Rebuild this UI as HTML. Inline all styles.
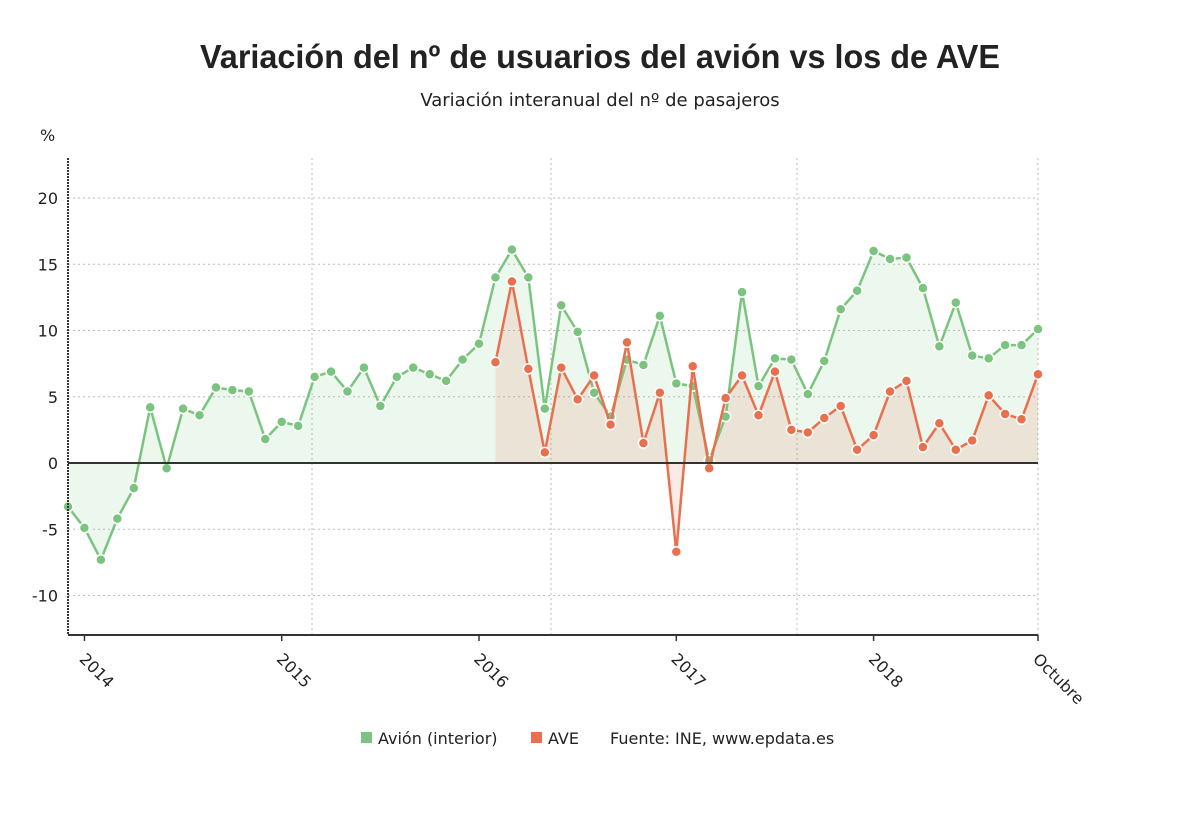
<!DOCTYPE html>
<html><head><meta charset="utf-8"><style>
body{margin:0;background:#fff;font-family:"Liberation Sans","DejaVu Sans",sans-serif;}
svg text{font-family:"DejaVu Sans","Liberation Sans",sans-serif;fill:#222;}
svg text.title{font-family:"Liberation Sans","DejaVu Sans",sans-serif;}
</style></head><body>
<svg id="chart" width="1200" height="809" xmlns="http://www.w3.org/2000/svg">
<text class="title" x="600" y="68" text-anchor="middle" font-size="33" font-weight="bold" fill="#111" textLength="800" lengthAdjust="spacingAndGlyphs">Variación del nº de usuarios del avión vs los de AVE</text>
<text x="600" y="106" text-anchor="middle" font-size="18">Variación interanual del nº de pasajeros</text>
<text x="40" y="141" font-size="16">%</text>
<g id="grid"></g>
<g id="areas"></g>
<g id="lines"></g>
<g id="axes"></g>
<g id="legend">
<rect x="361" y="732" width="11" height="11" fill="#7bc47f"/>
<text x="378" y="744" font-size="16">Avión (interior)</text>
<rect x="531" y="732" width="11" height="11" fill="#e8704f"/>
<text x="548" y="744" font-size="16">AVE</text>
<text x="610" y="744" font-size="16">Fuente: INE, www.epdata.es</text>
</g>
</svg>
<script>
const avion = [-3.3,-4.9,-7.3,-4.2,-1.9,4.2,-0.4,4.1,3.6,5.7,5.5,5.4,1.8,3.1,2.8,6.5,6.9,5.4,7.2,4.3,6.5,7.2,6.7,6.2,7.8,9.0,14.0,16.1,14.0,4.1,11.9,9.9,5.3,3.5,7.8,7.4,11.1,6.0,5.8,0.2,3.5,12.9,5.8,7.9,7.8,5.2,7.7,11.6,13.0,16.0,15.4,15.5,13.2,8.8,12.1,8.1,7.9,8.9,8.9,10.1];
const aveStart = 26;
const ave = [7.6,13.7,7.1,0.8,7.2,4.8,6.6,2.9,9.1,1.5,5.3,-6.7,7.3,-0.4,4.9,6.6,3.6,6.9,2.5,2.3,3.4,4.3,1.0,2.1,5.4,6.2,1.2,3.0,1.0,1.7,5.1,3.7,3.3,6.7];
const yTicks = [-10,-5,0,5,10,15,20];
const xLabels = ["2014","2015","2016","2017","2018","Octubre"];
const xLabelIdx = [1,13,25,37,49,59];

const NS="http://www.w3.org/2000/svg";
const X0=68, X1=1038, N=avion.length;
const xs=i=>X0+i*(X1-X0)/(N-1);
const ys=v=>463-v*13.25;
function mk(tag,attrs,parent){const e=document.createElementNS(NS,tag);for(const k in attrs)e.setAttribute(k,attrs[k]);parent.appendChild(e);return e;}
const grid=document.getElementById('grid'),areas=document.getElementById('areas'),lines=document.getElementById('lines'),axes=document.getElementById('axes');
yTicks.forEach(t=>{
  if(t!==0){const l=mk('line',{x1:X0,x2:X1,y1:ys(t),y2:ys(t),stroke:'#bbb','stroke-dasharray':'2,3'},grid);
  
  }
  const tx=mk('text',{x:58,y:ys(t)+6,'text-anchor':'end','font-size':16,fill:'#333'},axes);tx.textContent=t;
  
  
});
[312,551,797,1038].forEach(x=>{const l=mk('line',{x1:x,x2:x,y1:158,y2:635,stroke:'#bbb','stroke-dasharray':'2,3'},grid);
  
  });
function area(vals,off,fill,name){
  let d='M'+xs(off)+','+ys(0);
  vals.forEach((v,i)=>d+='L'+xs(off+i)+','+ys(v));
  d+='L'+xs(off+vals.length-1)+','+ys(0)+'Z';
  const p=mk('path',{d:d,fill:fill},areas);
  
  
}
area(avion,0,'rgba(123,196,127,0.14)','avion-area');
area(ave,aveStart,'rgba(232,112,79,0.15)','ave-area');
const z=mk('line',{x1:X0,x2:X1,y1:ys(0),y2:ys(0),stroke:'#333','stroke-width':2},axes);


const la=mk('line',{x1:X0,x2:X0,y1:158,y2:635,stroke:'#333','stroke-width':2,'stroke-dasharray':'2,1'},axes);


const lb=mk('line',{x1:X0,x2:X1,y1:635,y2:635,stroke:'#333','stroke-width':2},axes);


xLabels.forEach((s,k)=>{
  const x=xs(xLabelIdx[k]);
  const tk=mk('line',{x1:x,x2:x,y1:635,y2:641,stroke:'#333','stroke-width':1.5},axes);
  
  
  const t=mk('text',{x:x-6,y:660,'font-size':16,fill:'#333',transform:'rotate(45 '+(x-6)+' 660)'},axes);
  t.textContent=s;
  
  
});
function series(vals,off,color,name){
  const pts=vals.map((v,i)=>xs(off+i)+','+ys(v)).join(' ');
  const pl=mk('polyline',{points:pts,fill:'none',stroke:color,'stroke-width':2.5},lines);
  
  
  vals.forEach((v,i)=>{
    const c=mk('circle',{cx:xs(off+i),cy:ys(v),r:5,fill:color,stroke:'#fff','stroke-width':1.5},lines);
    
    
  });
}
series(avion,0,'#7bc47f','avion');
series(ave,aveStart,'#e8704f','ave');
</script>
</body></html>
